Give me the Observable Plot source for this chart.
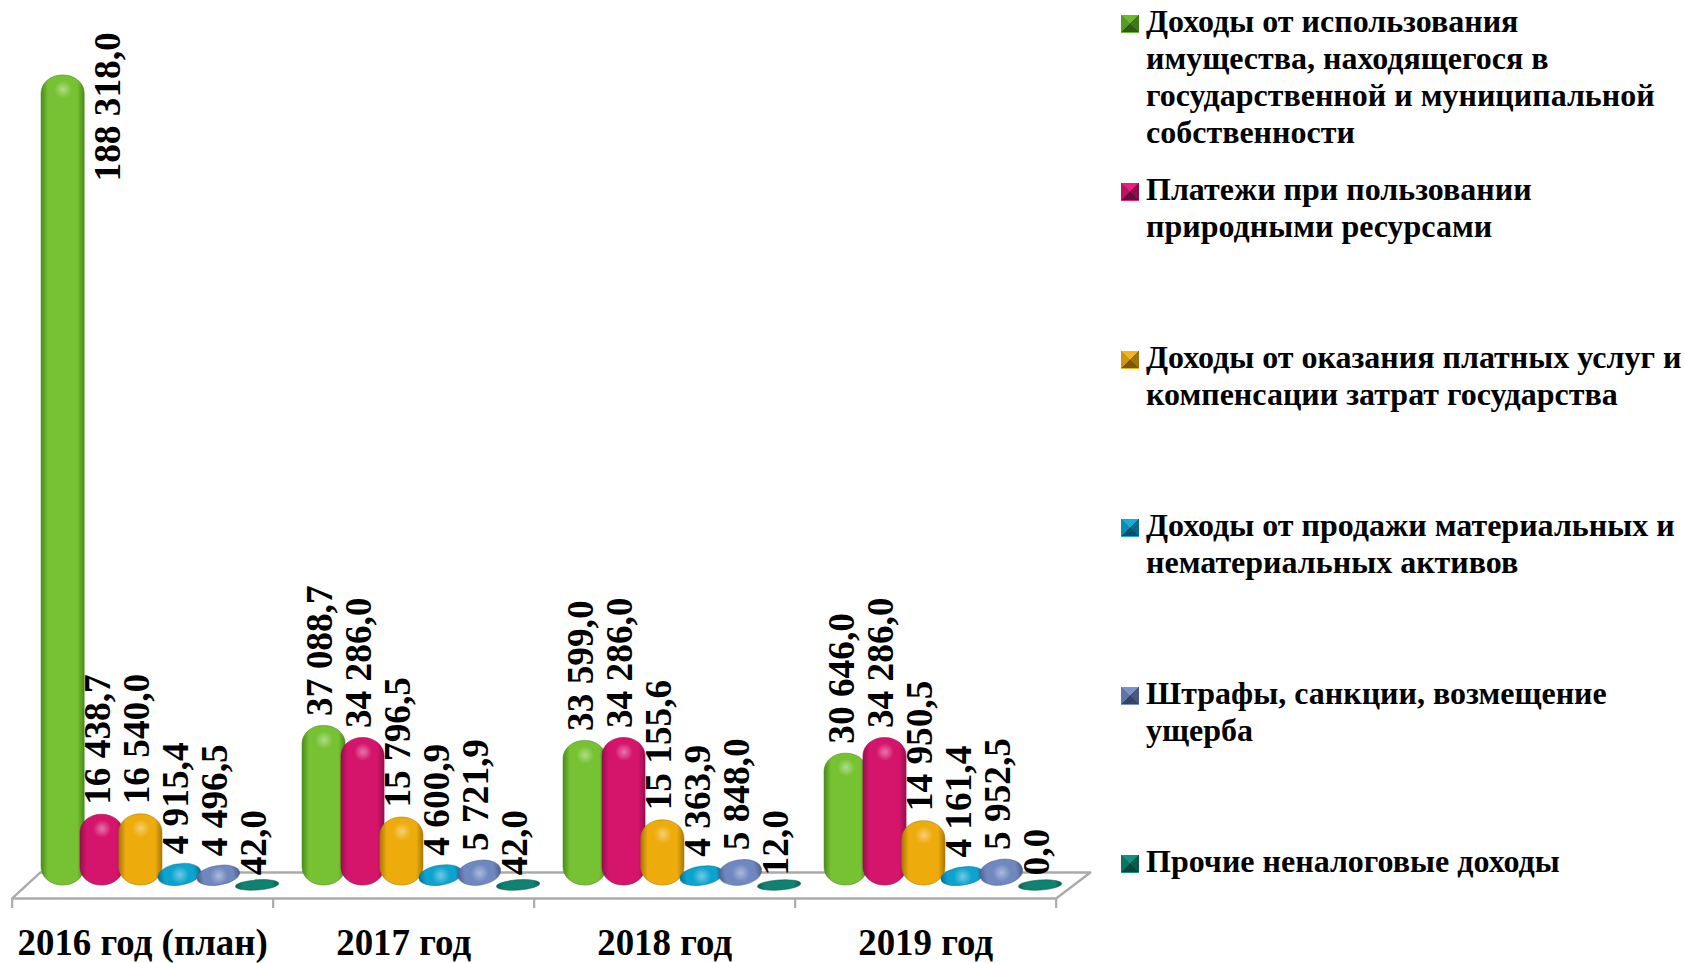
<!DOCTYPE html>
<html lang="ru"><head><meta charset="utf-8">
<script src="https://cdn.jsdelivr.net/npm/d3@7"></script>
<script src="https://cdn.jsdelivr.net/npm/@observablehq/plot@0.6"></script>
<style>
html,body{margin:0;padding:0;background:#fff;overflow:hidden}
#wrap{position:relative;width:1685px;height:963px}
#wrap svg{display:block;position:absolute;left:0;top:0;background:#fff}
#legend{position:absolute;left:1121px;top:0;width:564px;font:bold 32px/37px "Liberation Serif",serif;color:#000}
.item{position:absolute;left:0;display:block;white-space:nowrap}
.sw{position:absolute;left:0;top:12px;width:18px;height:18px;box-sizing:border-box;border-bottom:1.5px solid}
.tx{position:absolute;left:25px;top:0}
</style></head><body><div id="wrap"></div>
<script>
const groups = ["2016 год (план)","2017 год","2018 год","2019 год"];
const seriesNames = [
 "Доходы от использования\nимущества, находящегося в\nгосударственной и муниципальной\nсобственности",
 "Платежи при пользовании\nприродными ресурсами",
 "Доходы от оказания платных услуг и\nкомпенсации затрат государства",
 "Доходы от продажи материальных и\nнематериальных активов",
 "Штрафы, санкции, возмещение\nущерба",
 "Прочие неналоговые доходы"];
const income   = [188318, 37088.7, 33599, 30646];
const payments = [16438.7, 34286, 34286, 34286];
const services = [16540, 15796.5, 15155.6, 14950.5];
const sales    = [4915.4, 4600.9, 4363.9, 4161.4];
const fines    = [4496.5, 5721.9, 5848, 5952.5];
const other    = [42, 42, 12, 0];
const seriesValues = [income,payments,services,sales,fines,other];
const palette = [
 ["#4a8a1c","#76c232","#4a8a1c"],
 ["#96104f","#d5146c","#96104f"],
 ["#a87808","#eeac0c","#a87808"],
 ["#07708f","#0ca4cf","#07708f"],
 ["#4c5f8c","#7088c0","#4c5f8c"],
 ["#0a5f52","#108272","#0a5f52"]];
const markerColors=[["#6cb82e","#3f7a1a","#2f5c14","#559a24"],["#ea1e80","#8a0f4a","#62103a","#b8145f"],["#f4b41a","#a07208","#7a5606","#cf9410"],["#14aed8","#07688a","#064f68","#0c8cb0"],["#7c92c8","#465884","#354466","#5f75a6"],["#149080","#0a5a4e","#08453c","#0e7264"]];

const groupPitch = 6.71;           // slots per category
const rows = groups.flatMap((g,gi)=>seriesValues.map((vals,si)=>({
  group:g, gi, si, value:vals[gi], slot:gi*groupPitch+si
})));
const fmt = v => {
  const [a,b] = v.toFixed(1).split(".");
  return a.replace(/\B(?=(\d{3})+$)/g," ")+","+b;
};
const edge = i => -1.31 + i*groupPitch;
const floorFront=-3020, floorBack=3020, tickEnd=-5350, depthLeft=0.72, depthRight=0.88;
const edges = d3.range(groups.length+1).map(edge);

function defs(){
  const d=d3.create("svg:defs");
  palette.forEach((p,i)=>{
    const g=d.append("linearGradient").attr("id","bar"+i).attr("x1",0).attr("x2",1).attr("y1",0).attr("y2",0);
    [[0,p[0]],[.16,p[1]],[.5,p[1]],[.84,p[1]],[1,p[2]]].forEach(([o,c])=>g.append("stop").attr("offset",o).attr("stop-color",c));
  });
  const r=d.append("radialGradient").attr("id","glow");
  r.append("stop").attr("offset",0).attr("stop-color","#fff").attr("stop-opacity",.42);
  r.append("stop").attr("offset",1).attr("stop-color","#fff").attr("stop-opacity",0);
  return d.node();
}
function tilt(deg){
  return (i,s,v,dm,ctx,next)=>{
    const g=next(i,s,v,dm,ctx);
    d3.select(g).selectAll("rect").each(function(){
      const h=+this.getAttribute("height"), w=+this.getAttribute("width");
      if(h<30){
        const cx=+this.getAttribute("x")+w/2, cy=+this.getAttribute("y")+h/2;
        this.setAttribute("transform",`rotate(${deg} ${cx} ${cy})`);
      }
    });
    return g;
  };
}
const barMarks = d3.range(6).map(si=>Plot.rect(rows.filter(d=>d.si===si),{
  x1:d=>d.slot-0.555, x2:d=>d.slot+0.555, y1:()=>0, y2:"value",
  fill:`url(#bar${si})`, rx:21, ry:si===5?5:18,
  stroke:palette[si][0], strokeOpacity:.55, strokeWidth:1,
  insetTop:si===5?-5:0, insetBottom:si===5?-5:0,
  render:tilt(si===5?-4:-9)
}));
const textOpts={text:d=>fmt(d.value),rotate:-90,textAnchor:"start",fill:"#000",
  fontFamily:"Liberation Serif",fontWeight:"bold",fontSize:37.3};
const chart = Plot.plot({
  width:1685,height:963,margin:0,
  x:{type:"linear",domain:[-1.61,41.71],range:[0,1685],axis:null},
  y:{type:"linear",domain:[0,188318],range:[885,75],axis:null},
  style:{background:"#fff"},
  marks:[
    defs,
    // floor of the 3-D plot
    Plot.line([[edges[0],floorFront],[edges[0]+depthLeft,floorBack],[edges[4]+depthRight,floorBack],[edges[4],floorFront],[edges[0],floorFront]],
      {x:d=>d[0],y:d=>d[1],stroke:"#aaaaaa",strokeWidth:2.4}),
    Plot.ruleX(edges,{y1:floorFront,y2:tickEnd,stroke:"#aaaaaa",strokeWidth:2.2}),
    ...barMarks,
    Plot.dot(rows.filter(d=>d.value>10000),{x:"slot",y:"value",dy:14,r:9,fill:"url(#glow)"}),
    Plot.dot(rows.filter(d=>d.value>1000&&d.value<10000),{x:"slot",y:d=>d.value/2,r:9,fill:"url(#glow)"}),
    Plot.text(rows.filter(d=>d.value<100000),{...textOpts,x:"slot",y:"value",dx:-4,dy:-10}),
    Plot.text(rows.filter(d=>d.value>=100000),{...textOpts,x:"slot",y:"value",dx:45,dy:106}),
    Plot.text(groups,{x:(d,i)=>(edge(i)+edge(i+1))/2,y:()=>floorFront,dy:45,text:d=>d,
      fontFamily:"Liberation Serif",fontWeight:"bold",fontSize:36.9,fill:"#000"})
  ]
});
const wrap=document.getElementById("wrap");
wrap.appendChild(chart);
const lg=d3.select(wrap).append("div").attr("id","legend");
seriesNames.forEach((n,i)=>{
  const it=lg.append("div").attr("class","item").style("top",(3+i*168)+"px");
  const c=markerColors[i];
  it.append("div").attr("class","sw")
    .style("border-bottom-color",c[0])
    .style("background",`conic-gradient(${c[0]} 0 45deg,${c[1]} 45deg 135deg,${c[2]} 135deg 225deg,${c[3]} 225deg 315deg,${c[0]} 315deg 360deg)`);
  it.append("div").attr("class","tx").html(n.replace(/\n/g,"<br>"));
});
</script></body></html>
